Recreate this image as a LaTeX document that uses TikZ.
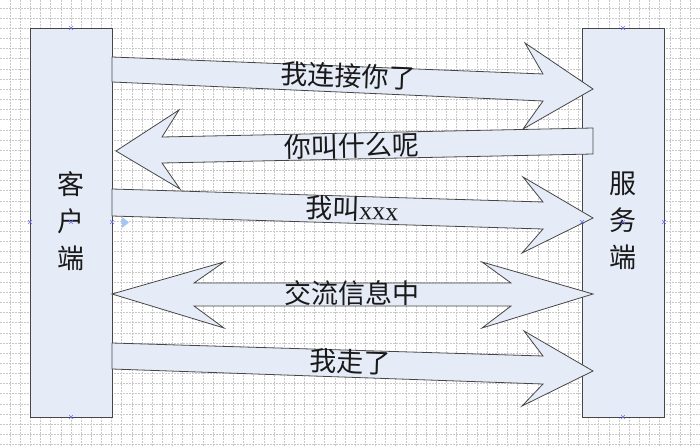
\documentclass[tikz,border=0pt]{standalone}
\usepackage{fontspec}
\setmainfont{Liberation Serif}
\newfontfamily\cjk{Noto Sans CJK SC}
\definecolor{boxfill}{RGB}{230,236,247}
\definecolor{edge}{RGB}{70,70,70}
\definecolor{gridc}{RGB}{200,200,200}
\definecolor{markc}{RGB}{110,110,240}
\definecolor{tric}{RGB}{160,200,245}
\begin{document}
\begin{tikzpicture}[x=1pt,y=-1pt,
  shapestyle/.style={draw=edge,fill=boxfill,line width=0.8pt,line join=miter},
  sidebox/.style={shapestyle,minimum width=82pt,minimum height=389pt,inner sep=0pt},
  sidetext/.style={font=\cjk\fontsize{27}{37}\selectfont,align=center,text=black!90,inner sep=0pt},
  lbl/.style={font=\cjk\fontsize{27}{30}\selectfont,text=black!90,inner sep=0pt},
  gridline/.style={draw=gridc,line width=0.5pt,dash pattern=on 2pt off 1pt},
  cmark/.style={draw=markc,line width=0.6pt}
]
\useasboundingbox (0,0) rectangle (700,446);
\fill[white] (0,0) rectangle (700,446);
% grid
\foreach \k in {0,...,68} {
  \draw[gridline] ({10+10.15*\k},0) -- ({10+10.15*\k},446);
}
\foreach \k in {0,...,43} {
  \draw[gridline] (0,{8+10.15*\k}) -- (700,{8+10.15*\k});
}
% boxes
\node[sidebox] (client) at (71,222.5) {};
\node[sidebox] (server) at (623,222.5) {};
\node[sidetext] (clienttxt) at (71,221) {客\\户\\端};
\node[sidetext] (servertxt) at (623,221) {服\\务\\端};
% arrow 1
\draw[shapestyle] (112,57) -- (543,74) -- (525,43) -- (593,89) -- (523,129) -- (543,101) -- (112,82) -- cycle;
% arrow 2
\draw[shapestyle] (116,151) -- (179,110) -- (162,137) -- (593,128) -- (593,154) -- (162,163) -- (180,189) -- cycle;
% arrow 3
\draw[shapestyle] (112,189) -- (543,202) -- (523,177) -- (593,218) -- (522,253) -- (543,229) -- (112,216) -- cycle;
% arrow 4 (double)
\draw[shapestyle] (112,294) -- (224,262) -- (194,283) -- (511,283) -- (482,262) -- (593,294) -- (482,328) -- (511,306) -- (194,306) -- (224,328) -- cycle;
% arrow 5
\draw[shapestyle] (112,343) -- (543,356) -- (524,331) -- (593,371) -- (522,406) -- (543,384) -- (112,369) -- cycle;
% labels
\node[lbl,rotate=-2.4] (l1) at (348,76) {我连接你了};
\node[lbl,rotate=1.2] (l2) at (352,146) {你叫什么呢};
\node[lbl,rotate=-1.7] (l3) at (352,209) {我叫{\rmfamily\fontsize{26}{30}\selectfont xxx}};
\node[lbl] (l4) at (352,293) {交流信息中};
\node[lbl,rotate=-1.9] (l5) at (350,362) {我走了};
% connection marks
\foreach \p in {(71,28),(71,417),(30,222),(71,222),(112,222),(623,28),(623,417),(582,222),(623,222),(664,222)} {
  \draw[cmark] \p ++(-2,-2) -- ++(4,4) \p ++(-2,2) -- ++(4,-4);
}
\fill[tric] (122,217) -- (129,222.5) -- (122,228) -- cycle;
\end{tikzpicture}
\end{document}
